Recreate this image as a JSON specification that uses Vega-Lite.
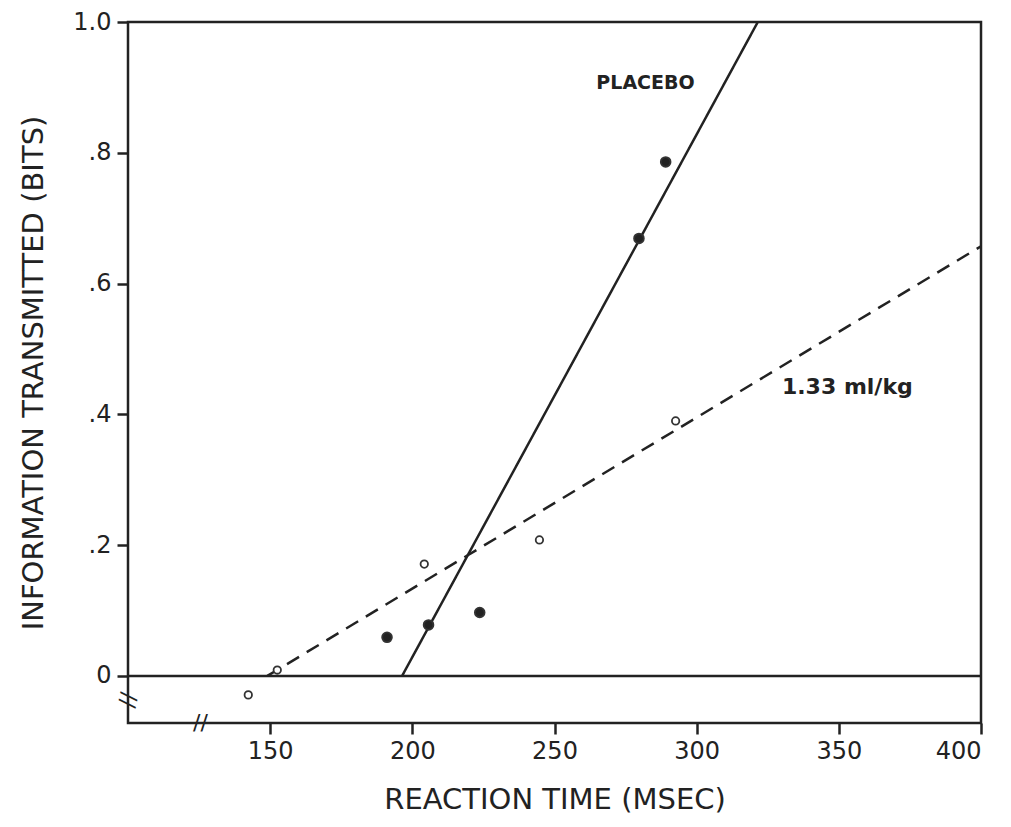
{
  "$schema": "https://vega.github.io/schema/vega-lite/v6.json",
  "width": 853,
  "height": 701,
  "autosize": "none",
  "padding": {"left": 128, "top": 22, "right": 30, "bottom": 104},
  "background": "white",
  "config": {
    "view": {"stroke": "#222", "strokeWidth": 2.5},
    "font": "DejaVu Sans",
    "axis": {"grid": false, "domain": false, "tickColor": "#222", "tickWidth": 2.5, "tickSize": 11, "labelColor": "#222", "titleColor": "#222", "labelFontSize": 24, "titleFontSize": 29, "titleFontWeight": "normal", "labelFont": "DejaVu Sans", "titleFont": "DejaVu Sans"}
  },
  "datasets": {
    "points": [
      {"rt": 191.1, "info": 0.059, "condition": "Placebo"},
      {"rt": 205.7, "info": 0.078, "condition": "Placebo"},
      {"rt": 223.7, "info": 0.097, "condition": "Placebo"},
      {"rt": 279.7, "info": 0.669, "condition": "Placebo"},
      {"rt": 289.1, "info": 0.786, "condition": "Placebo"},
      {"rt": 142.3, "info": -0.029, "condition": "1.33 ml/kg"},
      {"rt": 152.5, "info": 0.009, "condition": "1.33 ml/kg"},
      {"rt": 204.2, "info": 0.171, "condition": "1.33 ml/kg"},
      {"rt": 244.7, "info": 0.208, "condition": "1.33 ml/kg"},
      {"rt": 292.6, "info": 0.39, "condition": "1.33 ml/kg"}
    ],
    "fits": [
      {"rt": 196.4, "info": 0, "condition": "Placebo"},
      {"rt": 321.5, "info": 1.0, "condition": "Placebo"},
      {"rt": 149, "info": 0, "condition": "1.33 ml/kg"},
      {"rt": 400, "info": 0.657, "condition": "1.33 ml/kg"}
    ],
    "labels": [
      {"rt": 282, "info": 0.907, "text": "PLACEBO", "size": 19},
      {"rt": 353, "info": 0.442, "text": "1.33 ml/kg", "size": 22}
    ],
    "breaks": [
      {"rt": 125.5, "info": -0.072, "text": "//", "angle": 0},
      {"rt": 100, "info": -0.037, "text": "//", "angle": -80}
    ]
  },
  "layer": [
    {
      "data": {"values": [{"info": 0}]},
      "mark": {"type": "rule", "color": "#222", "strokeWidth": 2.5},
      "encoding": {"y": {"field": "info", "type": "quantitative"}}
    },
    {
      "data": {"name": "fits"},
      "mark": {"type": "line", "color": "#222", "strokeWidth": 2.5, "clip": true},
      "encoding": {
        "x": {"field": "rt", "type": "quantitative", "scale": {"domain": [100, 400], "nice": false, "zero": false},
          "axis": {"values": [150, 200, 250, 300, 350, 400], "title": "REACTION TIME (MSEC)", "labelPadding": 5, "titlePadding": 22}},
        "y": {"field": "info", "type": "quantitative", "scale": {"domain": [-0.072, 1.0], "nice": false, "zero": false},
          "axis": {"values": [0, 0.2, 0.4, 0.6, 0.8, 1.0], "title": "INFORMATION TRANSMITTED (BITS)", "labelPadding": 6, "titlePadding": 24,
            "labelExpr": "datum.value == 0 ? '0' : datum.value == 1 ? '1.0' : replace(format(datum.value, '.1f'), '0.', '.')"}},
        "detail": {"field": "condition", "type": "nominal"},
        "strokeDash": {"field": "condition", "type": "nominal", "scale": {"domain": ["Placebo", "1.33 ml/kg"], "range": [[1, 0], [14, 9]]}, "legend": null}
      }
    },
    {
      "data": {"name": "points"},
      "mark": {"type": "point", "shape": "circle", "strokeWidth": 1.8, "opacity": 1},
      "encoding": {
        "x": {"field": "rt", "type": "quantitative"},
        "y": {"field": "info", "type": "quantitative"},
        "fill": {"field": "condition", "type": "nominal", "scale": {"domain": ["Placebo", "1.33 ml/kg"], "range": ["#222", "white"]}, "legend": null},
        "stroke": {"value": "#333"},
        "size": {"field": "condition", "type": "nominal", "scale": {"domain": ["Placebo", "1.33 ml/kg"], "range": [95, 55]}, "legend": null}
      }
    },
    {
      "data": {"name": "labels"},
      "mark": {"type": "text", "color": "#222", "font": "DejaVu Sans", "fontWeight": "bold"},
      "encoding": {
        "x": {"field": "rt", "type": "quantitative"},
        "y": {"field": "info", "type": "quantitative"},
        "text": {"field": "text"},
        "size": {"field": "size", "type": "quantitative", "scale": null}
      }
    },
    {
      "data": {"name": "breaks"},
      "mark": {"type": "text", "fontSize": 22, "color": "#222", "font": "DejaVu Sans"},
      "encoding": {
        "x": {"field": "rt", "type": "quantitative"},
        "y": {"field": "info", "type": "quantitative"},
        "text": {"field": "text"},
        "angle": {"field": "angle", "type": "quantitative", "scale": null}
      }
    }
  ]
}
